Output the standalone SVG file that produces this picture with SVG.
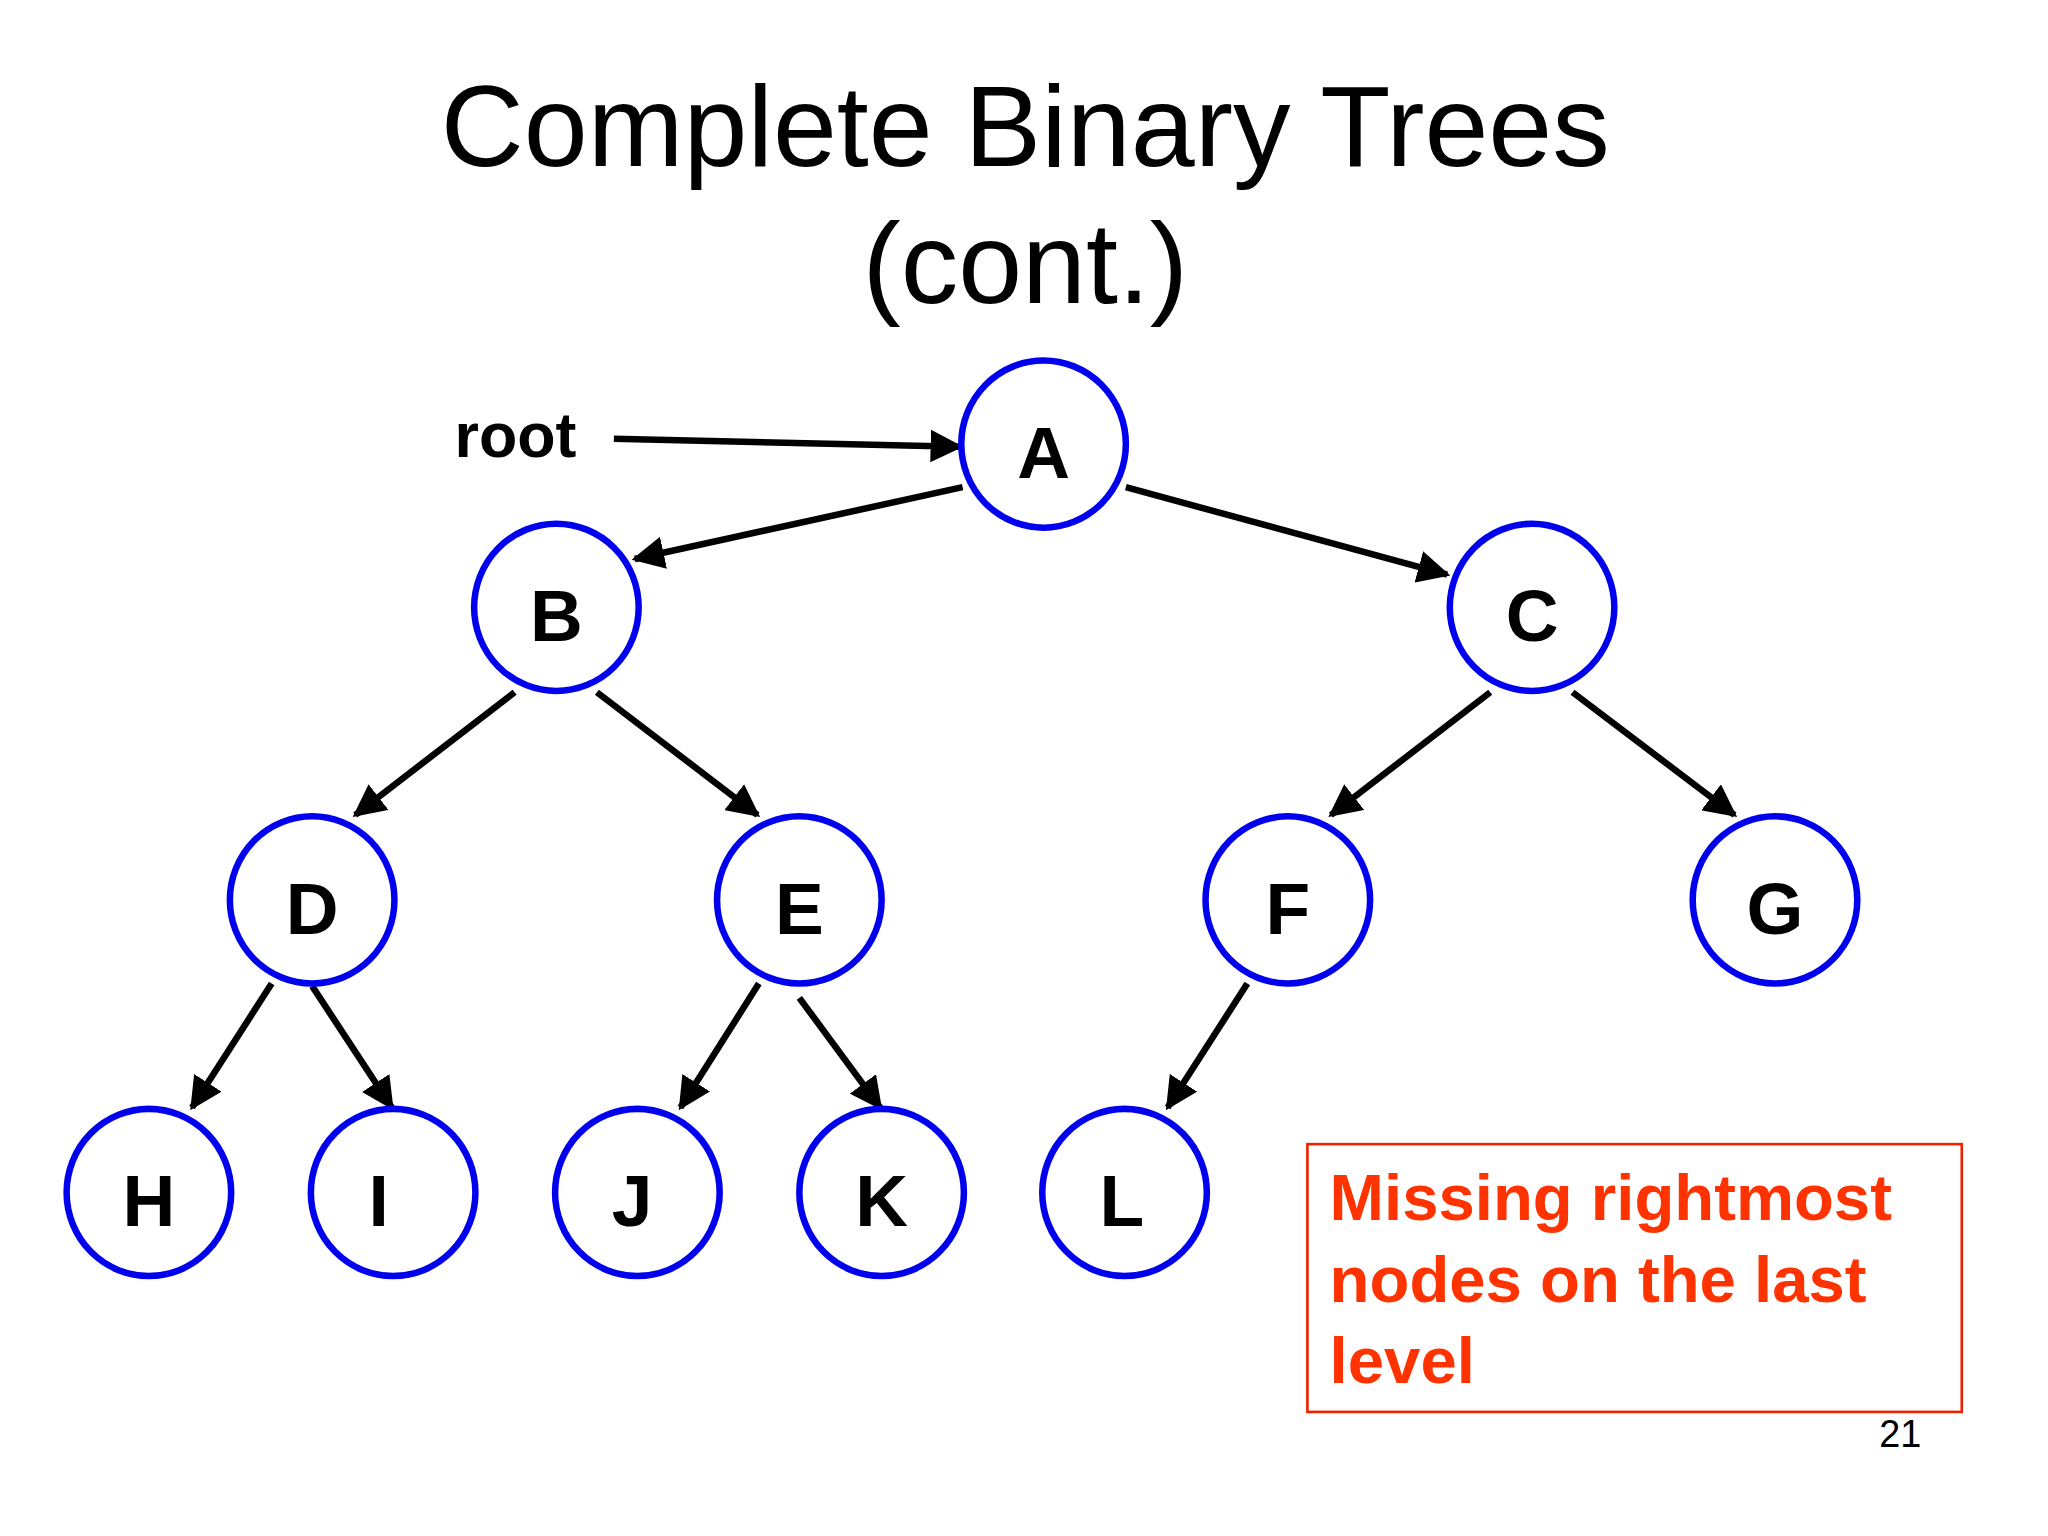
<svg xmlns="http://www.w3.org/2000/svg" width="2048" height="1536" viewBox="0 0 2048 1536">
<defs>
<marker id="ah" viewBox="0 0 10 10" refX="9" refY="5" markerWidth="5" markerHeight="5" orient="auto" markerUnits="strokeWidth"><path d="M0,0 L10,5 L0,10 z" fill="#000"/></marker>
<style>
.n{fill:#fff;stroke:#0000ee;stroke-width:5}
.l{font-family:"Liberation Sans",Arial,sans-serif;font-weight:bold;font-size:56px;text-anchor:middle;fill:#000}
.c{stroke:#000;stroke-width:5;fill:none;marker-end:url(#ah)}
</style>
</defs>
<rect width="2048" height="1536" fill="#fff"/>
<g transform="scale(1.3061)">
<text x="785" y="127" font-family="Liberation Sans,Arial,sans-serif" font-size="88" text-anchor="middle">Complete Binary Trees</text>
<text x="785" y="232" font-family="Liberation Sans,Arial,sans-serif" font-size="88" text-anchor="middle">(cont.)</text>
<text x="348" y="350" font-family="Liberation Sans,Arial,sans-serif" font-weight="bold" font-size="48">root</text>
<g id="connectors">
<line class="c" x1="470" y1="336" x2="735" y2="342"/>
<line class="c" x1="737" y1="373" x2="486" y2="428"/>
<line class="c" x1="862" y1="373" x2="1108" y2="440"/>
<line class="c" x1="394" y1="530" x2="272" y2="624"/>
<line class="c" x1="457" y1="530" x2="580" y2="624"/>
<line class="c" x1="1141" y1="530" x2="1019" y2="624"/>
<line class="c" x1="1204" y1="530" x2="1328" y2="624"/>
<line class="c" x1="208" y1="753" x2="147" y2="848"/>
<line class="c" x1="239" y1="755" x2="300" y2="848"/>
<line class="c" x1="581" y1="753" x2="521" y2="848"/>
<line class="c" x1="612" y1="764" x2="674" y2="848"/>
<line class="c" x1="955" y1="753" x2="894" y2="848"/>
</g>
<g id="A"><ellipse class="n" cx="799" cy="340" rx="63" ry="64"/><text class="l" x="799" y="366">A</text></g>
<g id="B"><ellipse class="n" cx="426" cy="465" rx="63" ry="64"/><text class="l" x="426" y="491">B</text></g>
<g id="C"><ellipse class="n" cx="1173" cy="465" rx="63" ry="64"/><text class="l" x="1173" y="491">C</text></g>
<g id="D"><ellipse class="n" cx="239" cy="689" rx="63" ry="64"/><text class="l" x="239" y="715">D</text></g>
<g id="E"><ellipse class="n" cx="612" cy="689" rx="63" ry="64"/><text class="l" x="612" y="715">E</text></g>
<g id="F"><ellipse class="n" cx="986" cy="689" rx="63" ry="64"/><text class="l" x="986" y="715">F</text></g>
<g id="G"><ellipse class="n" cx="1359" cy="689" rx="63" ry="64"/><text class="l" x="1359" y="715">G</text></g>
<g id="H"><ellipse class="n" cx="114" cy="913" rx="63" ry="64"/><text class="l" x="114" y="939">H</text></g>
<g id="I"><ellipse class="n" cx="301" cy="913" rx="63" ry="64"/><text class="l" x="290" y="939">I</text></g>
<g id="J"><ellipse class="n" cx="488" cy="913" rx="63" ry="64"/><text class="l" x="484" y="939">J</text></g>
<g id="K"><ellipse class="n" cx="675" cy="913" rx="63" ry="64"/><text class="l" x="675" y="939">K</text></g>
<g id="L"><ellipse class="n" cx="861" cy="913" rx="63" ry="64"/><text class="l" x="859" y="939">L</text></g>
<g id="note">
<rect x="1001" y="876" width="501" height="205" fill="none" stroke="#ee2200" stroke-width="2"/>
<g font-family="Liberation Sans,Arial,sans-serif" font-weight="bold" font-size="50" fill="#ff3300">
<text x="1018" y="934">Missing rightmost</text>
<text x="1018" y="997">nodes on the last</text>
<text x="1018" y="1059">level</text>
</g>
</g>
<text x="1471" y="1108" font-family="Liberation Sans,Arial,sans-serif" font-size="29" text-anchor="end">21</text>
</g>
</svg>
